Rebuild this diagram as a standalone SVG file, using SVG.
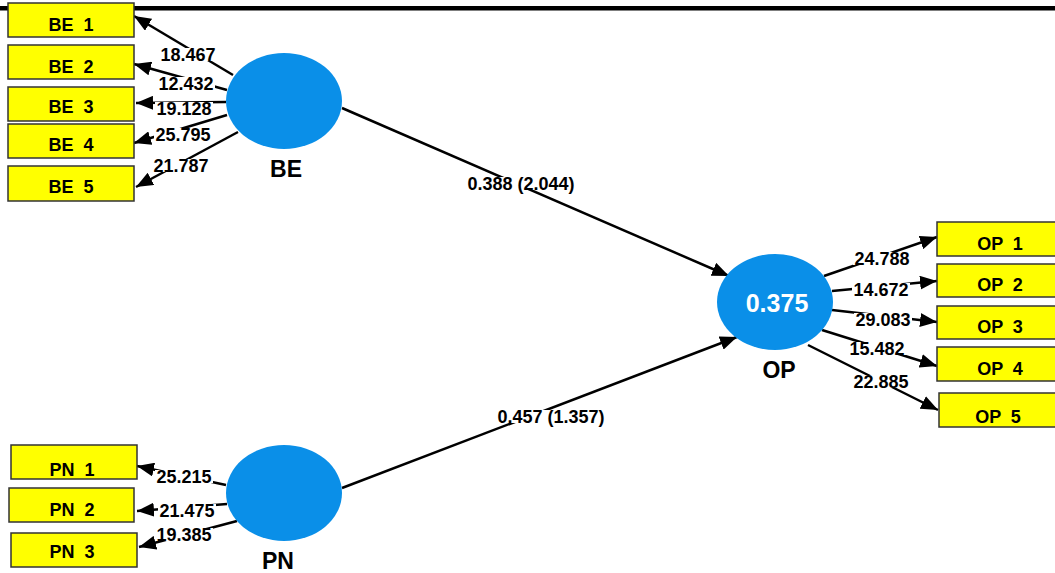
<svg xmlns="http://www.w3.org/2000/svg" width="1055" height="573" viewBox="0 0 1055 573">
<style>
.box{fill:#FFFF00;stroke:#333;stroke-width:1.5}
.bt{font-family:"Liberation Sans",Arial,sans-serif;font-weight:bold;font-size:18px;fill:#000;text-anchor:middle;white-space:pre}
.lv{fill:#0A8FE8}
.ll{font-family:"Liberation Sans",Arial,sans-serif;font-weight:bold;font-size:23px;fill:#000;text-anchor:middle}
.c{stroke:#000;stroke-width:2.5;fill:none;marker-end:url(#ah)}
.lbl{font-family:"Liberation Sans",Arial,sans-serif;font-weight:bold;font-size:18px;fill:#000;text-anchor:middle}
.bg{fill:#fff}
</style>
<defs>
<marker id="ah" markerUnits="userSpaceOnUse" markerWidth="18" markerHeight="14" refX="17" refY="7" orient="auto">
<path d="M0,0 L17,7 L0,14 Z" fill="#000"/>
</marker>
</defs>
<rect width="1055" height="573" fill="#fff"/>
<rect x="0" y="6" width="1055" height="4.5" fill="#000"/>
<g id="connectors">
<line class="c" x1="233" y1="75" x2="134" y2="16"/>
<line class="c" x1="227" y1="90" x2="134" y2="64"/>
<line class="c" x1="226" y1="102" x2="136" y2="103"/>
<line class="c" x1="227" y1="115" x2="134" y2="143"/>
<line class="c" x1="238" y1="132" x2="136" y2="187"/>
<line class="c" x1="824" y1="276" x2="937" y2="237"/>
<line class="c" x1="832" y1="291" x2="937" y2="281"/>
<line class="c" x1="832" y1="310" x2="937" y2="322"/>
<line class="c" x1="822" y1="330" x2="937" y2="366"/>
<line class="c" x1="808" y1="345" x2="938" y2="410"/>
<line class="c" x1="226" y1="485" x2="137" y2="466"/>
<line class="c" x1="227" y1="504" x2="137" y2="511"/>
<line class="c" x1="237" y1="521" x2="139" y2="547"/>
<line class="c" x1="342" y1="108" x2="729" y2="276"/>
<line class="c" x1="342" y1="488" x2="737" y2="337"/>
<g id="labels">
<rect class="bg" x="159" y="48" width="58" height="13"/><text class="lbl" x="188" y="61">18.467</text>
<rect class="bg" x="157" y="77" width="58" height="13"/><text class="lbl" x="186" y="90">12.432</text>
<rect class="bg" x="155" y="102" width="58" height="13"/><text class="lbl" x="184" y="115">19.128</text>
<rect class="bg" x="154" y="128" width="58" height="13"/><text class="lbl" x="183" y="141">25.795</text>
<rect class="bg" x="152" y="159" width="58" height="13"/><text class="lbl" x="181" y="172">21.787</text>
<rect class="bg" x="853" y="252" width="58" height="13"/><text class="lbl" x="882" y="265">24.788</text>
<rect class="bg" x="852" y="283" width="58" height="13"/><text class="lbl" x="881" y="296">14.672</text>
<rect class="bg" x="854" y="313" width="58" height="13"/><text class="lbl" x="883" y="326">29.083</text>
<rect class="bg" x="848" y="342" width="58" height="13"/><text class="lbl" x="877" y="355">15.482</text>
<rect class="bg" x="852" y="375" width="58" height="13"/><text class="lbl" x="881" y="388">22.885</text>
<rect class="bg" x="155" y="470" width="58" height="13"/><text class="lbl" x="184" y="483">25.215</text>
<rect class="bg" x="158" y="504" width="58" height="13"/><text class="lbl" x="187" y="517">21.475</text>
<rect class="bg" x="155" y="528" width="58" height="13"/><text class="lbl" x="184" y="541">19.385</text>
<rect class="bg" x="464" y="177" width="114" height="13"/><text class="lbl" x="521" y="190">0.388 (2.044)</text>
<rect class="bg" x="494" y="410" width="114" height="13"/><text class="lbl" x="551" y="423">0.457 (1.357)</text>
</g>
</g>
<g id="BE1"><rect class="box" x="8" y="3" width="126" height="34"/><text class="bt" x="71" y="31">BE  1</text></g>
<g id="BE2"><rect class="box" x="8" y="45" width="126" height="34"/><text class="bt" x="71" y="73">BE  2</text></g>
<g id="BE3"><rect class="box" x="8" y="87" width="126" height="34"/><text class="bt" x="71" y="113">BE  3</text></g>
<g id="BE4"><rect class="box" x="8" y="124" width="126" height="34"/><text class="bt" x="71" y="151">BE  4</text></g>
<g id="BE5"><rect class="box" x="8" y="166" width="126" height="35"/><text class="bt" x="71" y="193">BE  5</text></g>
<g id="OP1"><rect class="box" x="937" y="222" width="126" height="34"/><text class="bt" x="1000" y="250">OP  1</text></g>
<g id="OP2"><rect class="box" x="937" y="264" width="126" height="33"/><text class="bt" x="1000" y="291">OP  2</text></g>
<g id="OP3"><rect class="box" x="937" y="306" width="126" height="33"/><text class="bt" x="1000" y="333">OP  3</text></g>
<g id="OP4"><rect class="box" x="937" y="347" width="126" height="34"/><text class="bt" x="1000" y="375">OP  4</text></g>
<g id="OP5"><rect class="box" x="939" y="393" width="126" height="34"/><text class="bt" x="998" y="423">OP  5</text></g>
<g id="PN1"><rect class="box" x="11" y="445" width="126" height="34"/><text class="bt" x="72" y="476">PN  1</text></g>
<g id="PN2"><rect class="box" x="9" y="488" width="125" height="34"/><text class="bt" x="72" y="516">PN  2</text></g>
<g id="PN3"><rect class="box" x="11" y="533" width="126" height="34"/><text class="bt" x="72" y="558">PN  3</text></g>
<g id="BE"><ellipse class="lv" cx="284" cy="101" rx="58" ry="48"/><text class="ll" x="286" y="177">BE</text></g>
<g id="OP"><ellipse class="lv" cx="775" cy="302" rx="58" ry="48"/><text class="ll" x="777" y="312" style="fill:#fff;font-size:25px">0.375</text><text class="ll" x="779" y="378">OP</text></g>
<g id="PN"><ellipse class="lv" cx="284" cy="493" rx="58" ry="48"/><text class="ll" x="278" y="569">PN</text></g>
</svg>
